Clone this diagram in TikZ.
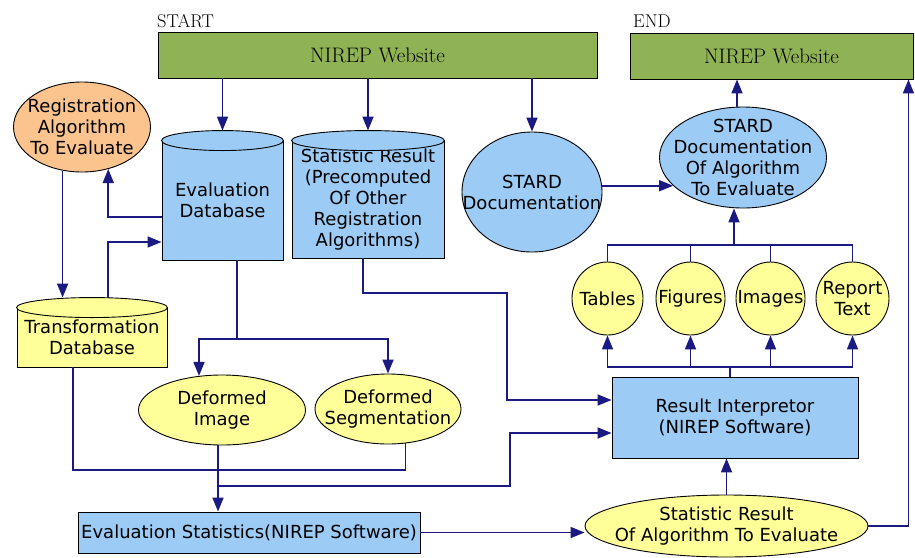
\documentclass[tikz,border=0pt]{standalone}
\usepackage{fontspec}
\setsansfont{DejaVu Sans}
\usetikzlibrary{positioning,arrows.meta,shapes.geometric,calc}

\definecolor{sitegreen}{RGB}{143,178,84}
\definecolor{dbblue}{RGB}{156,203,245}
\definecolor{noteyellow}{RGB}{255,255,153}
\definecolor{algoorange}{RGB}{251,196,143}
\definecolor{linknavy}{RGB}{26,26,128}

\begin{document}
\begin{tikzpicture}[
    x=1pt, y=-1pt,
    every node/.style={font=\sffamily\fontsize{18}{21}\selectfont, align=center},
    site/.style={rectangle, draw, line width=0.9pt, fill=sitegreen, inner sep=0pt, font=\rmfamily\fontsize{21}{24}\selectfont},
    tag/.style={inner sep=0pt, anchor=base west, font=\rmfamily\fontsize{18.5}{21}\selectfont},
    dbase/.style={rectangle, draw, line width=0.9pt, inner sep=0pt},
    proc/.style={rectangle, draw, line width=0.9pt, fill=dbblue, inner sep=0pt},
    blob/.style={ellipse, draw, line width=0.9pt, inner sep=-20pt},
    flow/.style={draw=linknavy, line width=1.7pt, -{Triangle[length=14pt,width=11pt]}},
    wire/.style={draw=linknavy, line width=1.7pt}
]
\useasboundingbox (0,0) rectangle (915,557);

% Define nodes
\node[tag] (startlbl) at (157,27) {START};
\node[tag] (endlbl) at (633,27) {END};
\node[site, minimum width=439, minimum height=46] (web1) at (377.5,55) {NIREP Website};
\node[site, minimum width=283, minimum height=46] (web2) at (771.5,56) {NIREP Website};

\node[blob, fill=algoorange, minimum width=137, minimum height=90] (regalgo) at (82,127) {Registration\\Algorithm\\To Evaluate};
\node[dbase, fill=dbblue, minimum width=121, minimum height=119] (evaldb) at (222.5,200.5) {Evaluation\\Database};
\node[dbase, fill=dbblue, minimum width=152, minimum height=117] (statdb) at (368,199.5) {Statistic Result\\(Precomputed\\Of Other\\Registration\\Algorithms)};
\node[dbase, fill=noteyellow, minimum width=150, minimum height=59] (transdb) at (92,337.5) {Transformation\\Database};

\node[blob, fill=dbblue, minimum width=140, minimum height=120] (stardoc) at (532,192) {STARD\\Documentation};
\node[blob, fill=dbblue, minimum width=167, minimum height=101] (stardalg) at (743,157.5) {STARD\\Documentation\\Of Algorithm\\To Evaluate};

\node[blob, fill=noteyellow, minimum width=71, minimum height=73] (tables) at (607.5,298.5) {Tables};
\node[blob, fill=noteyellow, minimum width=69, minimum height=73] (figures) at (690.5,298.5) {Figures};
\node[blob, fill=noteyellow, minimum width=69, minimum height=73] (images) at (770.5,298.5) {Images};
\node[blob, fill=noteyellow, minimum width=73, minimum height=73] (report) at (852.5,298.5) {Report\\Text};

\node[proc, minimum width=246, minimum height=81] (interp) at (735,417.5) {Result Interpretor\\(NIREP Software)};
\node[blob, fill=noteyellow, minimum width=167, minimum height=70] (defimg) at (222,410) {Deformed\\Image};
\node[blob, fill=noteyellow, minimum width=146, minimum height=70] (defseg) at (388,409) {Deformed\\Segmentation};
\node[proc, minimum width=342, minimum height=41] (evalstat) at (249,532.5) {Evaluation Statistics(NIREP Software)};
\node[blob, fill=noteyellow, minimum width=283, minimum height=62] (statres) at (726.5,526) {Statistic Result\\Of Algorithm To Evaluate};

% Database lids
\foreach \db/\c in {evaldb/dbblue, statdb/dbblue, transdb/noteyellow} {
    \draw[fill=\c, line width=0.9pt] let \p1=($(\db.north east)-(\db.north)$) in (\db.north) ellipse[x radius=\x1, y radius=10pt];
    \coordinate (\db-top) at ($(\db.north)+(0,-10)$);
}

% Draw connectors
\draw[flow] (evaldb-top |- web1.south) -- (evaldb-top);
\draw[flow] (statdb-top |- web1.south) -- (statdb-top);
\draw[flow] (stardoc.north |- web1.south) -- (stardoc.north);
\draw[flow] ([yshift=-16.5pt]evaldb.west) -| (regalgo.-58);
\draw[flow] (regalgo.-114) -- (regalgo.-114 |- transdb-top);
\draw[flow] ([xshift=16pt]transdb-top) |- ([yshift=-41.5pt]evaldb.west);

\coordinate (dbsplit) at ([xshift=14.5pt]evaldb.south |- 0,339);
\draw[wire] ([xshift=14.5pt]evaldb.south) -- (dbsplit);
\draw[flow] (dbsplit) -| (defimg.124);
\draw[flow] (dbsplit) -| (defseg.north);

\draw[flow] ([xshift=-5pt]statdb.south) |- (507,293) |- ([yshift=17.5pt]interp.west);
\draw[wire] ([xshift=-19pt]transdb.south) |- (defseg.-63 |- 0,470) -- (defseg.-63);
\draw[flow] ([xshift=-4pt]defimg.south) -- ([xshift=-4pt]defimg.south |- evalstat.north);
\draw[flow] ([xshift=-4pt]defimg.south |- 0,486) -| (510,460) |- ([yshift=-15.5pt]interp.west);

\draw[flow] (evalstat.east) -- (evalstat.east -| statres.west);
\draw[flow] (statres.north) -- (statres.north |- interp.south);
\draw[flow] (statres.east) -| ([xshift=-5pt]web2.south east);

\draw[flow] (stardoc.east |- stardalg.-158) -- (stardalg.-158);
\draw[flow] ([xshift=-6pt]stardalg.north) -- ([xshift=-6pt]stardalg.north |- web2.south);

% Document parts
\coordinate (docbus) at ([xshift=-9pt]stardalg.south |- 0,245);
\draw[flow] (docbus) -- (docbus |- stardalg.south);
\coordinate (figbus) at ([xshift=-5pt]interp.north |- 0,367);
\draw[wire] ([xshift=-5pt]interp.north) -- (figbus);
\foreach \c in {tables, figures, images, report} {
    \draw[wire] (\c.north) |- (docbus);
    \draw[flow] (figbus) -| (\c.south);
}

\end{tikzpicture}
\end{document}
